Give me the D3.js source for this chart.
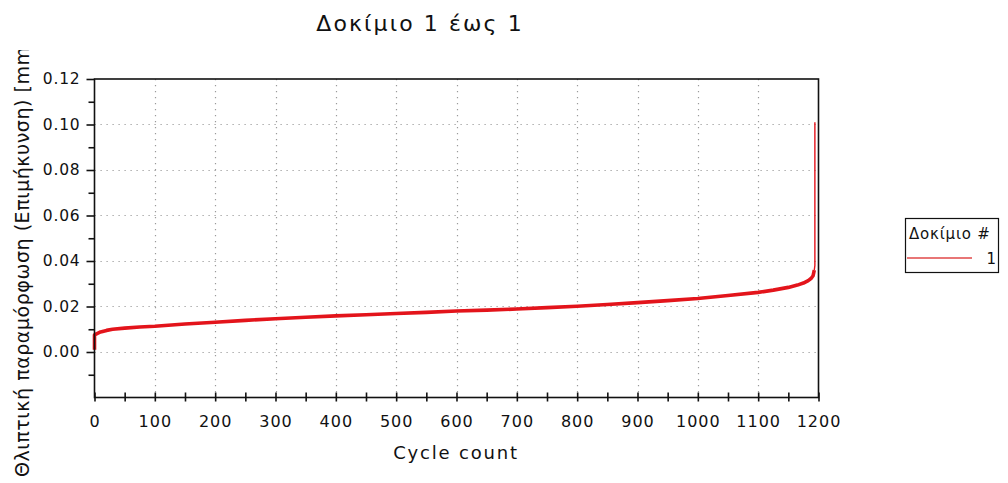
<!DOCTYPE html>
<html>
<head>
<meta charset="utf-8">
<script src="https://cdn.jsdelivr.net/npm/d3@7"></script>
<style>
  html, body { margin: 0; padding: 0; background: #fff; }
  svg { display: block; font-family: "DejaVu Sans", Verdana, sans-serif; }
</style>
</head>
<body>
<svg id="chart" width="1008" height="483"></svg>
<script>
// Specimen 1 — plastic strain (elongation) against cycle count
const cycles = [0, 0, 5, 10, 20, 30, 50, 75, 100, 150, 200, 250, 300, 350, 400, 450, 500,
  550, 600, 650, 700, 750, 800, 850, 900, 950, 1000, 1050, 1100, 1125, 1150, 1165, 1175,
  1183, 1188, 1191, 1193];
const strain = [0.001, 0.0075, 0.0082, 0.0088, 0.0095, 0.0100, 0.0105, 0.0110, 0.0113, 0.0123,
  0.0131, 0.0139, 0.0146, 0.0153, 0.0159, 0.0164, 0.0169, 0.0174, 0.0180, 0.0184, 0.0189,
  0.0195, 0.0201, 0.0209, 0.0217, 0.0226, 0.0235, 0.0248, 0.0262, 0.0272, 0.0284, 0.0294,
  0.0303, 0.0314, 0.0324, 0.0335, 0.0360];
// final rupture jump
const ruptureCycles = [1193, 1194, 1194];
const ruptureStrain = [0.0360, 0.0380, 0.1010];

const xTicks = [0, 100, 200, 300, 400, 500, 600, 700, 800, 900, 1000, 1100, 1200];
const xMinorTicks = [50, 150, 250, 350, 450, 550, 650, 750, 850, 950, 1050, 1150];
const yTicks = [0.00, 0.02, 0.04, 0.06, 0.08, 0.10, 0.12];
const yMinorTicks = [-0.01, 0.01, 0.03, 0.05, 0.07, 0.09, 0.11];

const titleText = "Δοκίμιο 1 έως 1";
const xLabel = "Cycle count";
const yLabel = "Θλιπτική παραμόρφωση (Επιμήκυνση) [mm]";
const legendTitle = "Δοκίμιο #";
const seriesNames = ["1"];

const svg = d3.select("#chart");
const plotL = 94.5, plotR = 818.5, plotT = 79, plotB = 397.5;

const x = d3.scaleLinear().domain([0, 1200]).range([plotL, plotR]);
const y = d3.scaleLinear().domain([-0.02, 0.12]).range([plotB, plotT]);

const red = "#e3141b";

// dotted grid
const grid = svg.append("g").attr("stroke", "#9a9a9a").attr("stroke-width", 1.2)
  .attr("stroke-dasharray", "1.2,4.8");
grid.selectAll("line.gx").data(xTicks.filter(d => d > 0 && d < 1200)).join("line")
  .attr("x1", d => Math.round(x(d)) + 0.5).attr("x2", d => Math.round(x(d)) + 0.5)
  .attr("y1", plotT).attr("y2", plotB);
grid.selectAll("line.gy").data(yTicks.filter(d => d < 0.12)).join("line")
  .attr("y1", d => Math.round(y(d)) + 0.5).attr("y2", d => Math.round(y(d)) + 0.5)
  .attr("x1", plotL).attr("x2", plotR);

// data line
const line = d3.line().x(d => x(d[0])).y(d => y(d[1]));
svg.append("path")
  .datum(cycles.map((c, i) => [c, strain[i]]))
  .attr("fill", "none").attr("stroke", red).attr("stroke-width", 3.6)
  .attr("stroke-linejoin", "round").attr("d", line);
svg.append("path")
  .datum(ruptureCycles.map((c, i) => [c, ruptureStrain[i]]))
  .attr("fill", "none").attr("stroke", red).attr("stroke-width", 1.4)
  .attr("d", line);

// frame
svg.append("rect").attr("x", plotL).attr("y", plotT)
  .attr("width", plotR - plotL).attr("height", plotB - plotT)
  .attr("fill", "none").attr("stroke", "#111").attr("stroke-width", 1.6);

// y axis
const yAxis = d3.axisLeft(y).tickValues(yTicks).tickFormat(d3.format(".2f"))
  .tickSizeInner(8).tickSizeOuter(0).tickPadding(6);
const gy = svg.append("g").attr("transform", `translate(${plotL},0)`).call(yAxis);
gy.select(".domain").remove();
gy.selectAll(".tick line").attr("stroke", "#111").attr("stroke-width", 1.6).attr("x2", -8);
gy.selectAll(".tick text").attr("font-size", 15.5).attr("fill", "#111")
  .attr("letter-spacing", 0.8).attr("font-family", "DejaVu Sans");
const gyMinor = svg.append("g").attr("transform", `translate(${plotL},0)`)
  .call(d3.axisLeft(y).tickValues(yMinorTicks).tickSize(6).tickFormat(""));
gyMinor.select(".domain").remove();
gyMinor.selectAll(".tick line").attr("stroke", "#111").attr("stroke-width", 1.6);

// x axis
const xAxis = d3.axisBottom(x).tickValues(xTicks).tickFormat(d3.format("d"))
  .tickSizeInner(4).tickSizeOuter(0).tickPadding(14);
const gx = svg.append("g").attr("transform", `translate(0,${plotB})`).call(xAxis);
gx.select(".domain").remove();
gx.selectAll(".tick line").attr("stroke", "#111").attr("stroke-width", 1.6).attr("y1", -5);
gx.selectAll(".tick text").attr("font-size", 16).attr("fill", "#111")
  .attr("letter-spacing", 1).attr("font-family", "DejaVu Sans");
const gxMinor = svg.append("g").attr("transform", `translate(0,${plotB})`)
  .call(d3.axisBottom(x).tickValues(xMinorTicks).tickSize(4).tickFormat(""));
gxMinor.select(".domain").remove();
gxMinor.selectAll(".tick line").attr("stroke", "#111").attr("stroke-width", 1.6).attr("y1", -5);

// title and axis labels
svg.append("text").attr("x", 420).attr("y", 31).attr("text-anchor", "middle")
  .attr("font-size", 22).attr("letter-spacing", 2.1).attr("fill", "#111").text(titleText);
svg.append("text").attr("x", 456).attr("y", 459).attr("text-anchor", "middle")
  .attr("font-size", 18).attr("letter-spacing", 1.8).attr("fill", "#111").text(xLabel);

svg.append("clipPath").attr("id", "ylabClip")
  .append("rect").attr("x", 0).attr("y", 50).attr("width", 60).attr("height", 433);
svg.append("g").attr("clip-path", "url(#ylabClip)")
  .append("text").attr("transform", "translate(29,477) rotate(-90)")
  .attr("text-anchor", "start").attr("font-size", 19).attr("letter-spacing", 0.55)
  .attr("fill", "#111").text(yLabel);

// legend
const lg = svg.append("g");
lg.append("rect").attr("x", 905.5).attr("y", 218.5).attr("width", 93).attr("height", 54)
  .attr("fill", "#fff").attr("stroke", "#111").attr("stroke-width", 1.2);
lg.append("text").attr("x", 909).attr("y", 239).attr("font-size", 15)
  .attr("letter-spacing", 0.8).attr("fill", "#111").text(legendTitle);
lg.selectAll("line.item").data(seriesNames).join("line")
  .attr("x1", 907).attr("x2", 972).attr("y1", (d, i) => 258 + i * 20).attr("y2", (d, i) => 258 + i * 20)
  .attr("stroke", "#e04848").attr("stroke-width", 1.6);
lg.selectAll("text.item").data(seriesNames).join("text")
  .attr("x", 996).attr("y", (d, i) => 264 + i * 20).attr("text-anchor", "end")
  .attr("font-size", 15).attr("fill", "#111").text(d => d);
</script>
</body>
</html>
